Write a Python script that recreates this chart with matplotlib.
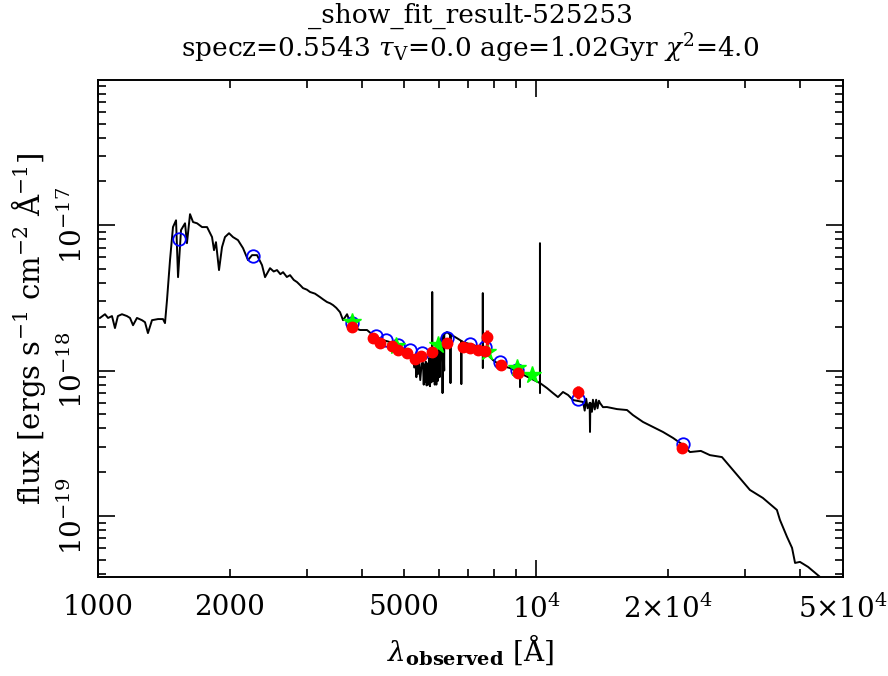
import numpy as np
import matplotlib
matplotlib.use("Agg")
import matplotlib.pyplot as plt
from matplotlib.ticker import FixedLocator, LogLocator, NullFormatter

plt.rcParams['font.family'] = ['DejaVu Serif']
plt.rcParams['mathtext.fontset'] = 'dejavuserif'

#-----model spectrum (observed frame)-----#
wave = [1012, 1039, 1056, 1078, 1095, 1112, 1136, 1166, 1185, 1204, 1229, 1262,
        1282, 1302, 1330, 1373, 1409, 1424, 1439, 1462, 1485, 1509, 1525, 1549,
        1582, 1598, 1624, 1650, 1685, 1730, 1776, 1823, 1842, 1861, 1891, 1921,
        1951, 1993, 2035, 2089, 2145, 2202, 2249, 2309, 2370, 2408, 2472, 2520,
        2564, 2610, 2647, 2700, 2746, 2800, 2848, 2900, 2939, 3000, 3050, 3130,
        3214, 3270, 3334, 3390, 3441, 3500, 3570, 3627, 3704, 3763,
        3863, 3966, 4114, 4246, 4473, 4714, 4968, 5236,
        5270, 5300, 5330, 5350, 5380, 5400, 5440, 5480, 5518, 5540, 5560, 5580,
        5600, 5625, 5650, 5675, 5700, 5725, 5750, 5770, 5790, 5793,
        5796, 5830, 5850, 5870, 5895, 5920, 5945, 5970, 5995, 6020, 6060, 6097,
        6112, 6115, 6118, 6140,
        6169, 6172, 6260, 6373, 6376, 6379, 6427, 6597, 6747, 6750, 6753, 6808,
        7175, 7500, 7553, 7555, 7557, 7559, 7764, 7970, 8269, 8714, 9181, 9184,
        9187, 9678, 10197, 10199, 10201, 10203, 10580, 10920, 11210, 11510, 11820,
        12130, 12790, 12900, 13000, 13100, 13240, 13265, 13290, 13400, 13470,
        13600, 13700, 13800, 13900, 13980, 14200, 14500, 15290, 16110, 16620,
        17520, 18470, 19460, 20510, 21610, 22416, 23740, 24894, 26520, 28100,
        30710, 32870, 35390, 35960, 37320, 38320, 38930, 39940, 41690, 44360, 46750]
flux = [2.30e-18, 2.44e-18, 2.30e-18, 2.37e-18, 1.96e-18, 2.37e-18, 2.44e-18, 2.37e-18,
        2.30e-18, 2.05e-18, 2.30e-18, 2.22e-18, 2.15e-18, 1.81e-18, 2.22e-18, 2.26e-18,
        2.26e-18, 2.12e-18, 3.05e-18, 5.75e-18, 9.7e-18, 1.08e-17, 4.39e-18, 9.25e-18,
        1.03e-17, 7.52e-18, 1.19e-17, 1.05e-17, 1.03e-17, 9.7e-18, 9.7e-18, 8.28e-18,
        6.73e-18, 7.64e-18, 4.91e-18, 7.06e-18, 8.28e-18, 8.8e-18, 8.28e-18, 7.89e-18,
        6.95e-18, 5.75e-18, 6.22e-18, 6.22e-18, 5.31e-18, 4.39e-18, 5.06e-18, 4.80e-18,
        4.91e-18, 4.60e-18, 4.75e-18, 4.40e-18, 4.53e-18, 4.20e-18, 4.06e-18, 3.85e-18,
        3.69e-18, 3.60e-18, 3.47e-18, 3.38e-18,
        3.20e-18, 3.08e-18, 2.96e-18, 2.90e-18, 2.82e-18, 2.70e-18,
        2.52e-18, 2.22e-18, 2.44e-18, 2.15e-18, 1.96e-18, 1.90e-18, 1.90e-18, 1.75e-18,
        1.62e-18, 1.55e-18, 1.38e-18, 1.24e-18,
        1.05e-18, 1.20e-18, 9.0e-19, 1.10e-18, 9.5e-19, 1.18e-18, 8.6e-19, 1.12e-18,
        1.13e-18, 8.0e-19, 1.10e-18, 8.4e-19, 1.15e-18, 7.9e-19, 1.12e-18, 8.0e-19,
        1.22e-18, 7.8e-19, 1.20e-18, 8.3e-19, 1.34e-18, 3.47e-18,
        1.30e-18, 8.5e-19, 1.35e-18, 8.0e-19, 1.40e-18, 8.0e-19, 1.45e-18, 8.5e-19,
        1.50e-18, 9.0e-19, 1.62e-18, 1.70e-18,
        1.70e-18, 7.0e-19, 1.70e-18, 1.75e-18,
        1.0e-18, 1.78e-18, 1.84e-18, 1.76e-18, 8.2e-19, 1.76e-18, 1.75e-18, 1.67e-18,
        1.60e-18, 8.07e-19, 1.60e-18, 1.57e-18, 1.50e-18, 1.43e-18, 1.43e-18, 3.41e-18,
        1.04e-18, 1.40e-18, 1.28e-18, 1.18e-18, 1.09e-18, 1.04e-18, 9.6e-19, 7.7e-19,
        9.6e-19, 8.88e-19, 8.2e-19, 7.52e-18, 7.0e-19, 8.2e-19, 7.58e-19, 7.0e-19,
        6.57e-19, 7.12e-19, 6.79e-19, 6.27e-19, 6.08e-19, 5.3e-19, 6.4e-19, 5.5e-19,
        6.0e-19, 3.78e-19, 6.0e-19, 5.2e-19, 6.3e-19, 5.4e-19, 6.3e-19, 5.5e-19,
        6.2e-19, 5.98e-19, 5.6e-19, 5.61e-19, 5.43e-19, 5.35e-19, 4.94e-19,
        4.43e-19, 4.09e-19, 3.78e-19, 3.44e-19, 3.08e-19, 2.75e-19, 2.80e-19, 2.62e-19,
        2.54e-19, 2.07e-19, 1.51e-19, 1.33e-19, 1.10e-19, 9.39e-20, 7.18e-20, 6.03e-20,
        4.75e-20, 4.83e-20, 4.46e-20, 3.81e-20, 3.3e-20]

#-----photometry-----#
# model fluxes in the bands (blue open circles)
model_wave = [1532, 2261, 3802, 4312, 4545, 4840, 5155, 5491, 6260, 7063, 7644,
              8269, 9042, 12452, 21620]
model_flux = [8.02e-18, 6.12e-18, 2.12e-18, 1.73e-18, 1.62e-18, 1.50e-18, 1.38e-18,
              1.32e-18, 1.67e-18, 1.52e-18, 1.45e-18, 1.14e-18, 1.01e-18, 6.37e-19,
              3.13e-19]
# observed fluxes (red filled circles)
obs_wave = [3802, 4246, 4404, 4691, 4840, 5075, 5291, 5462, 5785, 6260, 6808, 7063,
            7367, 7644, 7725, 8312, 9089, 12452, 21500]
obs_flux = [1.99e-18, 1.67e-18, 1.55e-18, 1.47e-18, 1.38e-18, 1.32e-18, 1.20e-18,
            1.26e-18, 1.34e-18, 1.55e-18, 1.45e-18, 1.43e-18, 1.38e-18, 1.36e-18,
            1.70e-18, 1.09e-18, 9.6e-19, 7.12e-19, 2.93e-19]
obs_err = [0, 0, 0, 0, 0, 0, 0, 0, 0, 0, 0, 0, 0, 0, 2.0e-19, 0, 0, 7.0e-20, 0]
# extra bands (green stars)
star_wave = [3802, 4790, 5970, 7725, 9042, 9781]
star_flux = [2.15e-18, 1.47e-18, 1.50e-18, 1.34e-18, 1.04e-18, 9.3e-19]

x_ticks = [1000, 2000, 5000, 10000, 20000, 50000]
x_labels = ['1000', '2000', '5000', r'$10^4$', r'$2{\times}10^4$', r'$5{\times}10^4$']
y_ticks = [1e-19, 1e-18, 1e-17]

#-----figure and axes-----#
fig = plt.figure(figsize=(8.88, 6.76), dpi=100)
ax = fig.add_axes([0.110, 0.1464, 0.839, 0.7356])

ax.plot(wave, flux, '-', color='black', lw=1.4, zorder=2)
ax.plot(model_wave, model_flux, 'o', mfc='none', mec='blue', ms=9, mew=1.3, zorder=3)
ax.plot(star_wave, star_flux, '*', color='#00ff00', ms=13, zorder=4)
ax.errorbar(obs_wave, obs_flux, yerr=obs_err, fmt='o', color='red', ms=7.5,
            elinewidth=2.5, capsize=0, zorder=5)

ax.set_xscale('log')
ax.set_yscale('log')
ax.set_xlim(1000, 50000)
ax.set_ylim(3.8e-20, 1e-16)

# major ticks only at decades, labels also on 2 and 5
ax.xaxis.set_major_locator(FixedLocator([1000, 10000]))
ax.xaxis.set_minor_locator(LogLocator(base=10, subs=np.arange(2, 10)))
ax.xaxis.set_minor_formatter(NullFormatter())
ax.xaxis.set_major_formatter(NullFormatter())
for xv, xl in zip(x_ticks, x_labels):
    ax.text(xv, -0.035, xl, transform=ax.get_xaxis_transform(), ha='center',
            va='top', fontsize=20)

ax.yaxis.set_major_locator(FixedLocator(y_ticks))
ax.yaxis.set_minor_locator(LogLocator(base=10, subs=np.arange(2, 10)))
ax.yaxis.set_minor_formatter(NullFormatter())

ax.tick_params(which='both', direction='in', top=True, right=True, width=1.2)
ax.tick_params(which='major', length=12)
ax.tick_params(which='minor', length=6)
ax.tick_params(axis='y', labelsize=20, pad=7)
plt.setp(ax.get_yticklabels(), rotation=90, va='center')
for s in ax.spines.values():
    s.set_linewidth(1.4)

ax.set_xlabel(r'$\lambda_{\mathbf{observed}}$ [Å]', fontsize=20, labelpad=36)
ax.set_ylabel(r'flux [ergs s$^{-1}$ cm$^{-2}$ Å$^{-1}$]', fontsize=21, labelpad=8)
ax.set_title('_show_fit_result-525253\n'
             r'specz=0.5543 $\tau_{\rm V}$=0.0 age=1.02Gyr $\chi^2$=4.0',
             fontsize=19, pad=16, linespacing=1.1)

fig.savefig('out.png', dpi=100)
